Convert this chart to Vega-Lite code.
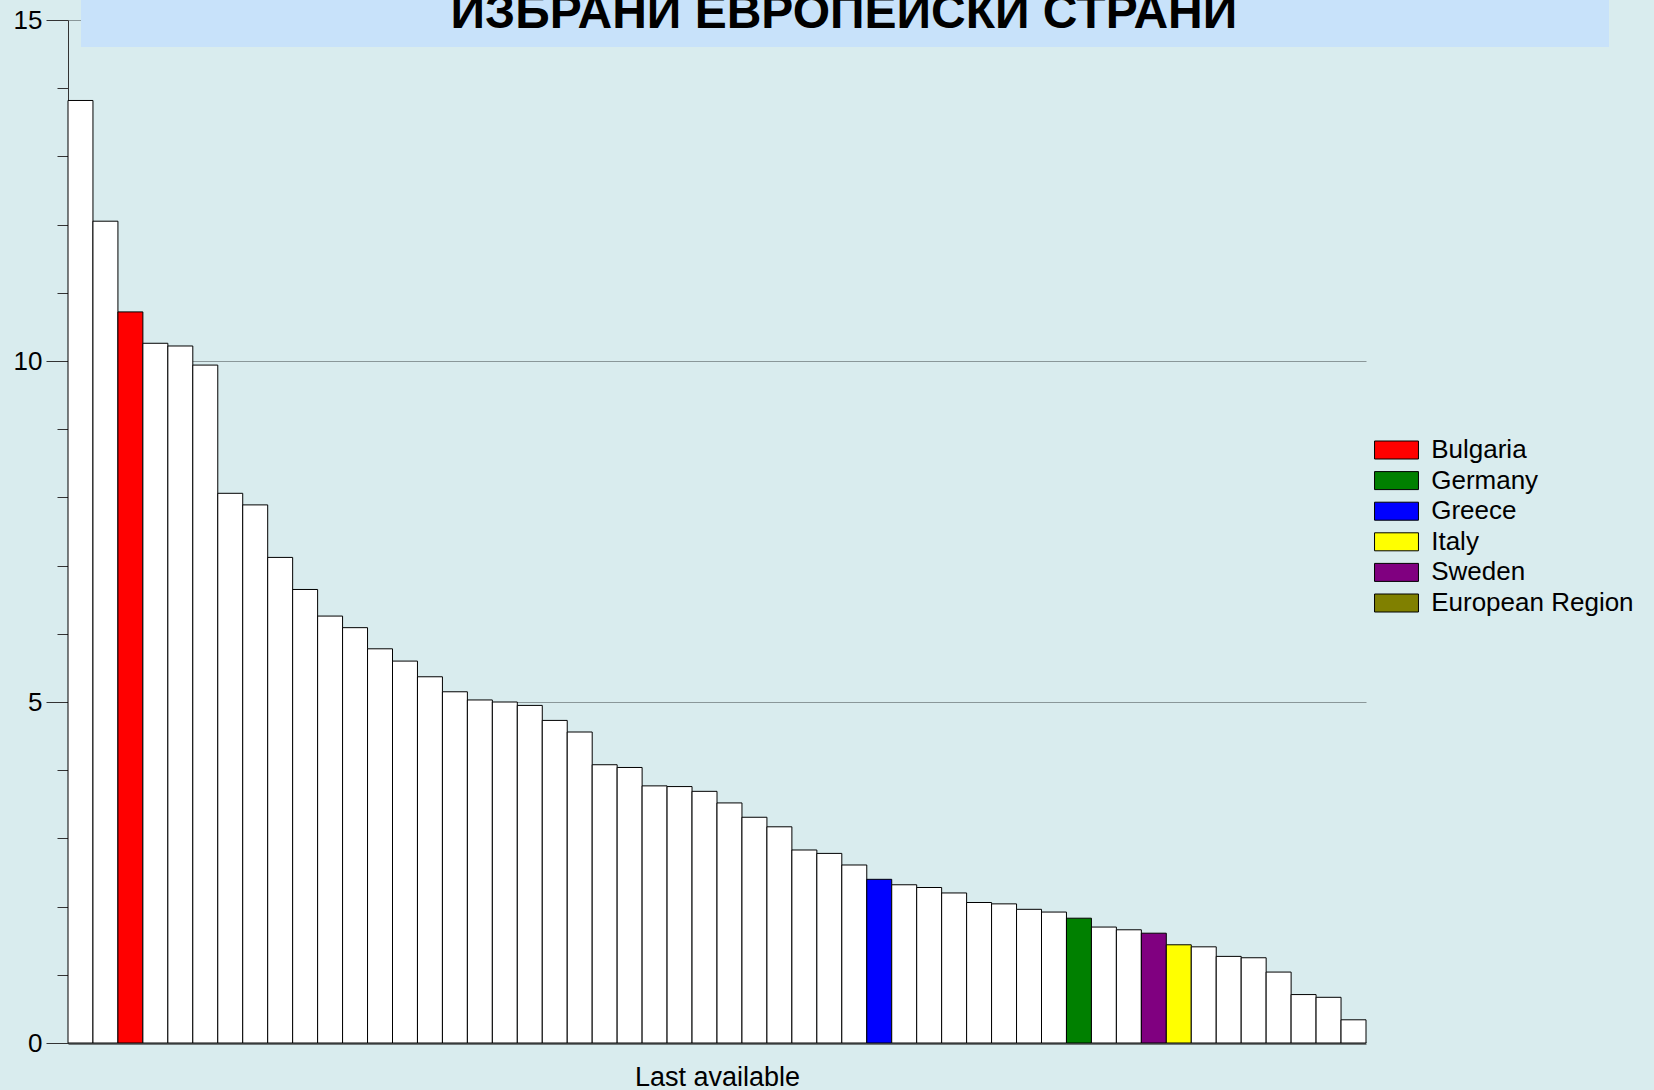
{
  "$schema": "https://vega.github.io/schema/vega-lite/v6.json",
  "autosize": {"type": "none"},
  "width": 1298,
  "height": 1023,
  "padding": {"left": 68, "top": 20, "right": 288, "bottom": 47},
  "background": "#D9ECEE",
  "config": {"view": {"stroke": null}, "font": "Liberation Sans"},
  "data": {"values": [
    {"rank": 1, "group": "Other", "value": 13.82},
    {"rank": 2, "group": "Other", "value": 12.05},
    {"rank": 3, "group": "Bulgaria", "value": 10.72},
    {"rank": 4, "group": "Other", "value": 10.26},
    {"rank": 5, "group": "Other", "value": 10.22},
    {"rank": 6, "group": "Other", "value": 9.94},
    {"rank": 7, "group": "Other", "value": 8.06},
    {"rank": 8, "group": "Other", "value": 7.89},
    {"rank": 9, "group": "Other", "value": 7.12},
    {"rank": 10, "group": "Other", "value": 6.65},
    {"rank": 11, "group": "Other", "value": 6.26},
    {"rank": 12, "group": "Other", "value": 6.09},
    {"rank": 13, "group": "Other", "value": 5.78},
    {"rank": 14, "group": "Other", "value": 5.6},
    {"rank": 15, "group": "Other", "value": 5.37},
    {"rank": 16, "group": "Other", "value": 5.15},
    {"rank": 17, "group": "Other", "value": 5.03},
    {"rank": 18, "group": "Other", "value": 5.0},
    {"rank": 19, "group": "Other", "value": 4.95},
    {"rank": 20, "group": "Other", "value": 4.73},
    {"rank": 21, "group": "Other", "value": 4.56},
    {"rank": 22, "group": "Other", "value": 4.08},
    {"rank": 23, "group": "Other", "value": 4.04},
    {"rank": 24, "group": "Other", "value": 3.77},
    {"rank": 25, "group": "Other", "value": 3.76},
    {"rank": 26, "group": "Other", "value": 3.69},
    {"rank": 27, "group": "Other", "value": 3.52},
    {"rank": 28, "group": "Other", "value": 3.31},
    {"rank": 29, "group": "Other", "value": 3.17},
    {"rank": 30, "group": "Other", "value": 2.83},
    {"rank": 31, "group": "Other", "value": 2.78},
    {"rank": 32, "group": "Other", "value": 2.61},
    {"rank": 33, "group": "Greece", "value": 2.4},
    {"rank": 34, "group": "Other", "value": 2.32},
    {"rank": 35, "group": "Other", "value": 2.28},
    {"rank": 36, "group": "Other", "value": 2.2},
    {"rank": 37, "group": "Other", "value": 2.06},
    {"rank": 38, "group": "Other", "value": 2.04},
    {"rank": 39, "group": "Other", "value": 1.96},
    {"rank": 40, "group": "Other", "value": 1.92},
    {"rank": 41, "group": "Germany", "value": 1.83},
    {"rank": 42, "group": "Other", "value": 1.7},
    {"rank": 43, "group": "Other", "value": 1.66},
    {"rank": 44, "group": "Sweden", "value": 1.61},
    {"rank": 45, "group": "Italy", "value": 1.44},
    {"rank": 46, "group": "Other", "value": 1.41},
    {"rank": 47, "group": "Other", "value": 1.27},
    {"rank": 48, "group": "Other", "value": 1.25},
    {"rank": 49, "group": "Other", "value": 1.04},
    {"rank": 50, "group": "Other", "value": 0.71},
    {"rank": 51, "group": "Other", "value": 0.67},
    {"rank": 52, "group": "Other", "value": 0.34}
  ]},
  "layer": [
    {
      "data": {"values": [{"label": "ИЗБРАНИ ЕВРОПЕЙСКИ СТРАНИ"}]},
      "mark": {"type": "rect", "color": "#C8E2FA", "clip": false},
      "encoding": {
        "x": {"datum": 0.01, "type": "quantitative", "scale": {"domain": [0, 1], "nice": false, "zero": false}, "axis": null},
        "x2": {"datum": 1.1872},
        "y": {"datum": 15.293, "type": "quantitative"},
        "y2": {"datum": 14.604}
      }
    },
    {
      "data": {"values": [{"label": "ИЗБРАНИ ЕВРОПЕЙСКИ СТРАНИ"}]},
      "mark": {"type": "text", "font": "Liberation Sans", "fontWeight": "bold", "fontSize": 48, "align": "center", "baseline": "alphabetic", "color": "#000000", "clip": false},
      "encoding": {
        "text": {"field": "label"},
        "x": {"datum": 0.5978, "type": "quantitative", "scale": {"domain": [0, 1], "nice": false, "zero": false}, "axis": null},
        "y": {"datum": 14.89, "type": "quantitative"}
      }
    },
    {
      "mark": {"type": "bar", "stroke": "#000000", "strokeWidth": 1},
      "encoding": {
        "x": {
          "field": "rank", "type": "ordinal",
          "scale": {"paddingInner": 0, "paddingOuter": 0},
          "axis": {"title": "Last available", "labels": false, "ticks": false, "domainColor": "#6f7677", "domainWidth": 3, "titleFont": "Liberation Sans", "titleFontSize": 27, "titleFontWeight": "normal", "titleColor": "#000000", "titlePadding": 21}
        },
        "y": {
          "field": "value", "type": "quantitative",
          "scale": {"domain": [0, 15], "nice": false},
          "axis": {
            "title": null,
            "format": "d",
            "values": [0, 1, 2, 3, 4, 5, 6, 7, 8, 9, 10, 11, 12, 13, 14, 15],
            "labelExpr": "datum.value % 5 === 0 ? datum.label : ''",
            "tickSize": {"condition": {"test": "datum.value % 5 === 0", "value": 22}, "value": 11},
            "tickColor": "#333333",
            "domainColor": "#333333",
            "grid": true,
            "gridColor": "#8a9799",
            "gridWidth": 1,
            "gridOpacity": {"condition": {"test": "datum.value % 5 === 0 && datum.value > 0", "value": 1}, "value": 0},
            "labelFont": "Liberation Sans",
            "labelFontSize": 26,
            "labelColor": "#000000",
            "labelPadding": 4
          }
        },
        "color": {
          "field": "group", "type": "nominal",
          "scale": {
            "domain": ["Bulgaria", "Germany", "Greece", "Italy", "Sweden", "European Region", "Other"],
            "range": ["#FF0000", "#008000", "#0000FF", "#FFFF00", "#800080", "#808000", "#FFFFFF"]
          },
          "legend": {
            "title": null,
            "values": ["Bulgaria", "Germany", "Greece", "Italy", "Sweden", "European Region"],
            "orient": "none",
            "legendX": 1315.5,
            "legendY": 417,
            "symbolType": "M-2.44,-1H2.44V1H-2.44Z",
            "symbolSize": 324,
            "symbolStrokeColor": "#000000",
            "symbolStrokeWidth": 1,
            "symbolOpacity": 1,
            "labelFont": "Liberation Sans",
            "labelFontSize": 26,
            "labelColor": "#000000",
            "labelOffset": 21.7,
            "rowPadding": 4.6,
            "labelLimit": 400
          }
        }
      }
    }
  ],
  "resolve": {"scale": {"x": "independent"}, "axis": {"x": "independent"}}
}
